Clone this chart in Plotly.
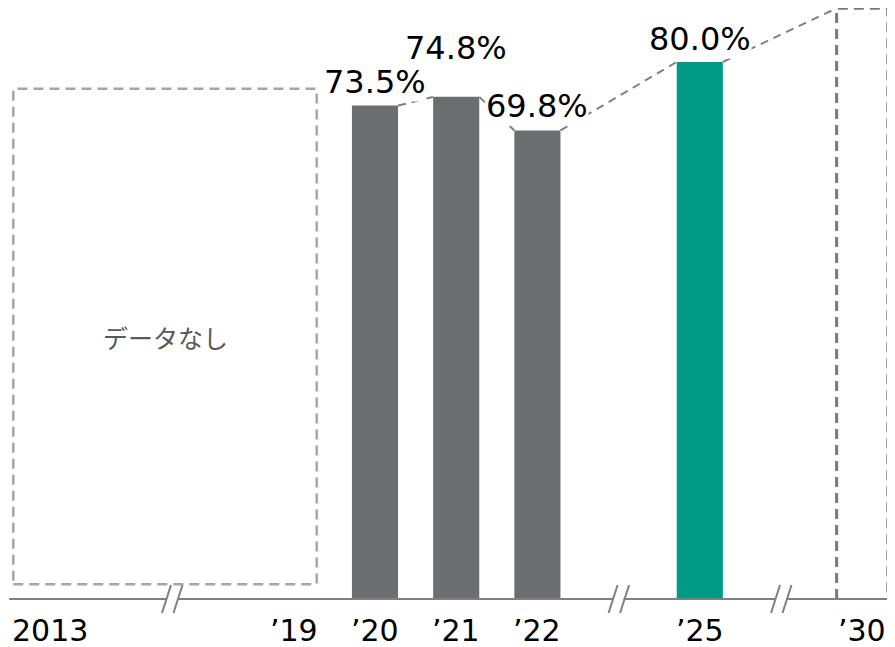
import plotly.graph_objects as go

# ---- data ----
tick_labels = ["2013", "\u201919", "\u201920", "\u201921", "\u201922", "\u201925", "\u201930"]
bar_years = ["\u201920", "\u201921", "\u201922", "\u201925"]
bar_values = [73.5, 74.8, 69.8, 80.0]
bar_label_texts = ["73.5%", "74.8%", "69.8%", "80.0%"]
target_year = "\u201930"
target_value = 88.0          # dashed outline (estimated)
no_data_text = "データなし"
no_data_top = 76.0           # height of "no data" placeholder box (estimated)
no_data_bottom = 2.2

# ---- layout / positions (slot units) ----
slot = {"2013": -4, "\u201919": -1, "\u201920": 0, "\u201921": 1, "\u201922": 2, "\u201925": 4, "\u201930": 6}
no_data_span = (-4.454, -0.718)
break_slots = [-2.5, 3.0, 5.0]
bar_w = 0.568
target_w = 0.63
px_per_slot = 81.2
px_per_pct = 6.713
label_shift = [24, 49, 24, 23]
PAGE_OFF = 8  # browser body margin

GRAY = "#6d6e71"
TEAL = "#009b87"
LINE = "#808080"

bar_x = [slot[y] for y in bar_years]
bar_colors = [GRAY, GRAY, GRAY, TEAL]

fig = go.Figure()
fig.add_trace(go.Bar(x=bar_x, y=bar_values, width=bar_w, marker=dict(color=bar_colors, line=dict(width=0)),
                     hoverinfo="skip"))

# dashed connectors between bar tops
pts = [(bx, v) for bx, v in zip(bar_x, bar_values)]
pts.append((slot[target_year], target_value))
widths = [bar_w] * len(bar_values) + [target_w]
for i in range(len(pts) - 1):
    (x0, y0), (x1, y1) = pts[i], pts[i + 1]
    fig.add_trace(go.Scatter(x=[x0 + widths[i] / 2, x1 - widths[i + 1] / 2], y=[y0, y1], mode="lines",
                             line=dict(color=LINE, width=2, dash="8px,6px"), hoverinfo="skip"))

shapes = []
# no-data placeholder box
shapes.append(dict(type="rect", xref="x", yref="y", x0=no_data_span[0], x1=no_data_span[1],
                   y0=no_data_bottom, y1=no_data_top, line=dict(color="#a6a6a6", width=2.5, dash="10px,6px")))
# target box (open at the bottom, sits on the axis)
tx0 = slot[target_year] - target_w / 2
tx1 = slot[target_year] + target_w / 2
shapes.append(dict(type="path", xref="x", yref="y",
                   path=f"M {tx0},0 L {tx0},{target_value} L {tx1},{target_value} L {tx1},0",
                   line=dict(color="#7a7a7a", width=3, dash="10px,6px")))
# axis line
shapes.append(dict(type="line", xref="x", yref="y", x0=-4.506, x1=6.5, y0=0, y1=0,
                   line=dict(color=LINE, width=2)))
# break marks
for c in break_slots:
    shapes.append(dict(type="rect", xref="x", yref="y", xsizemode="pixel", ysizemode="pixel",
                       xanchor=c, yanchor=0, x0=-5, x1=5, y0=-3, y1=3,
                       fillcolor="white", line=dict(width=0)))
    for dx0, dx1 in [(-10, -1), (1.5, 10.5)]:
        shapes.append(dict(type="line", xref="x", yref="y", xsizemode="pixel", ysizemode="pixel",
                           xanchor=c, yanchor=0, x0=dx0, x1=dx1, y0=-14, y1=14,
                           line=dict(color=LINE, width=2)))

annotations = []
for bx, v, t, s in zip(bar_x, bar_values, bar_label_texts, label_shift):
    annotations.append(dict(x=bx, y=v, xref="x", yref="y", text=t, showarrow=False, yanchor="middle",
                            yshift=s, bgcolor="white", borderpad=0,
                            font=dict(family="DejaVu Sans", size=32, color="#000000")))
for lab in tick_labels:
    annotations.append(dict(x=slot[lab], y=0, xref="x", yref="y", text=lab, showarrow=False,
                            yanchor="middle", yshift=-31,
                            font=dict(family="DejaVu Sans", size=30, color="#000000")))
annotations.append(dict(x=sum(no_data_span) / 2, y=(no_data_top + no_data_bottom) / 2, xref="x", yref="y",
                        text=no_data_text, showarrow=False,
                        font=dict(family="Noto Sans CJK JP", size=25, color="#595959")))

fig.update_layout(
    width=895 - PAGE_OFF, height=647 - PAGE_OFF, margin=dict(l=0, r=0, t=0, b=0),
    paper_bgcolor="white", plot_bgcolor="white", showlegend=False,
    xaxis=dict(range=[(PAGE_OFF - 375) / px_per_slot, 520 / px_per_slot], visible=False, fixedrange=True),
    yaxis=dict(range=[-48 / px_per_pct, (599 - PAGE_OFF) / px_per_pct], visible=False, fixedrange=True),
    shapes=shapes, annotations=annotations,
)

fig.write_html("out.html")
